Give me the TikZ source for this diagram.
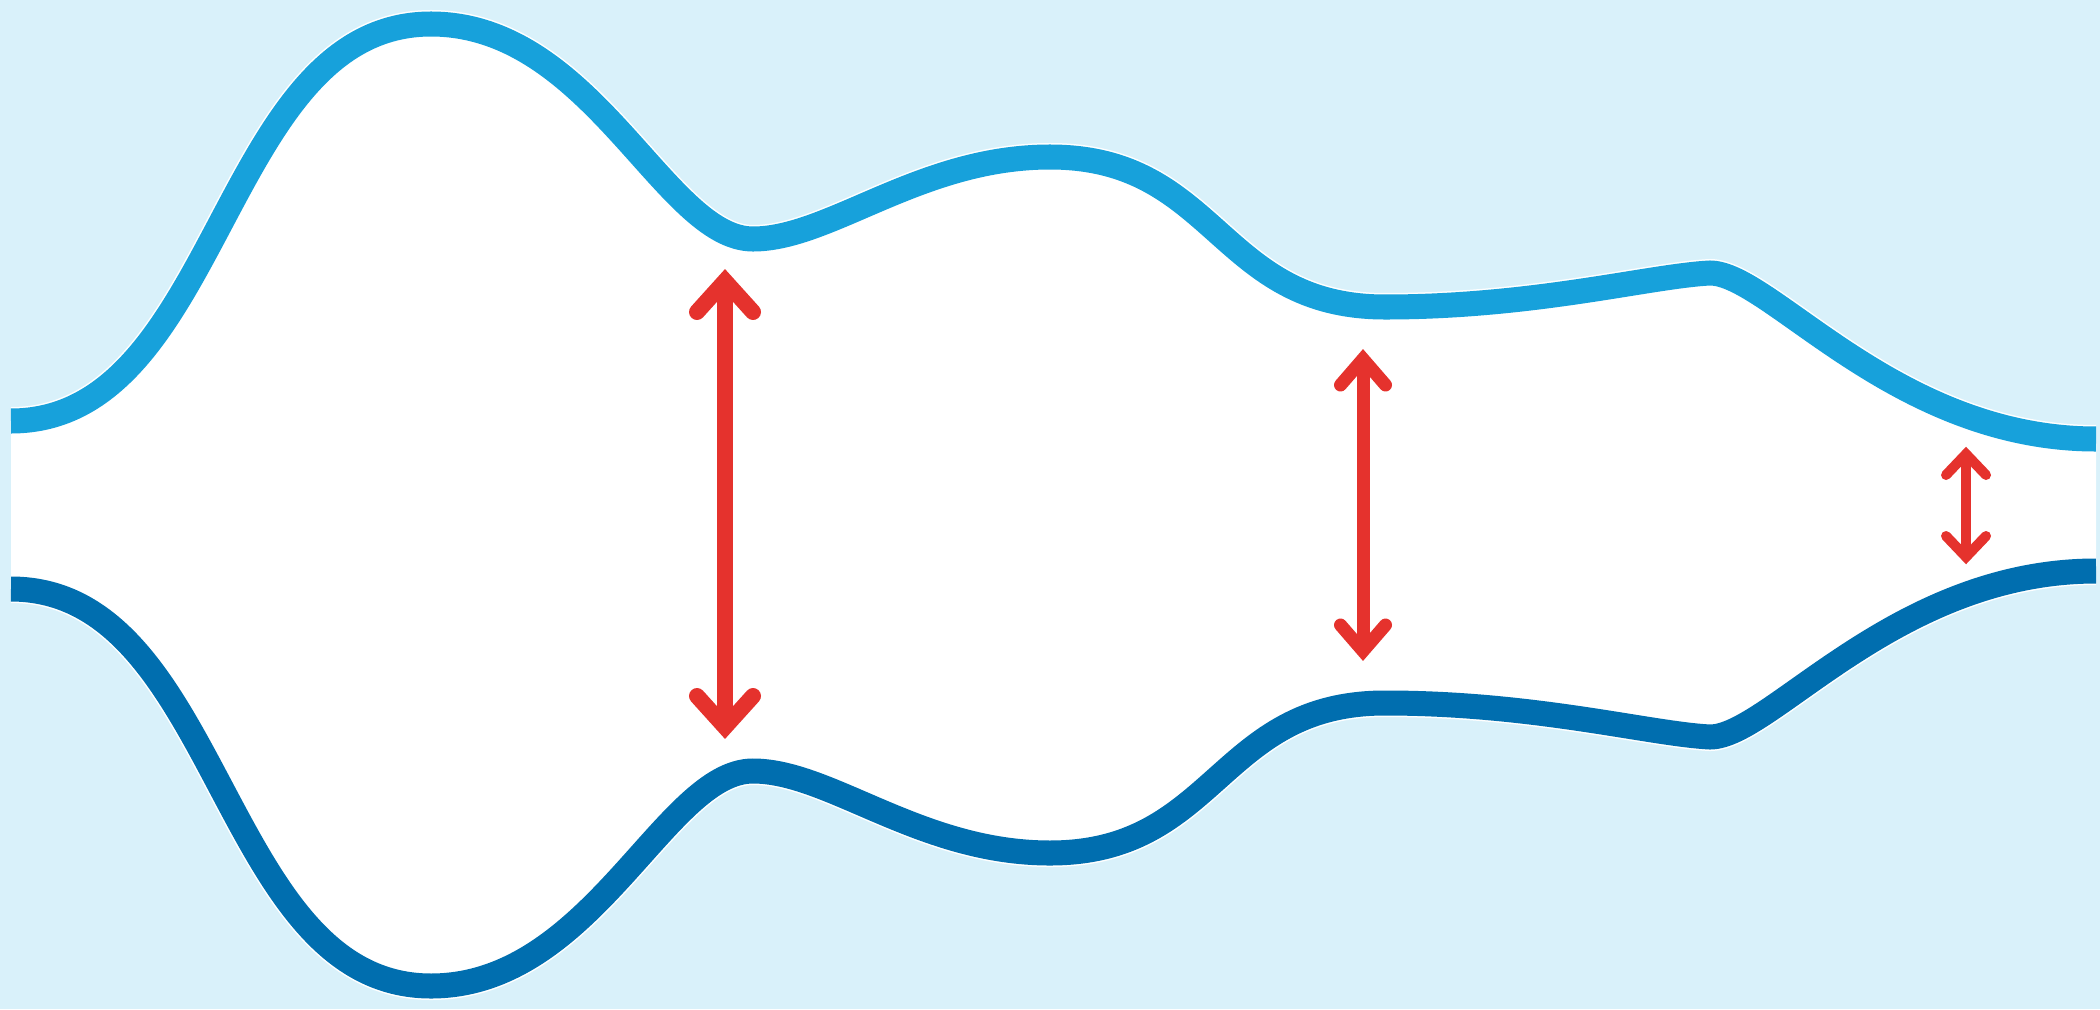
\documentclass[tikz,border=0pt]{standalone}
\usepackage{tikz}
\definecolor{sky}{HTML}{D9F1FA}
\definecolor{wallup}{HTML}{17A1DB}
\definecolor{walldown}{HTML}{006EAF}
\definecolor{gauge}{HTML}{E5322D}
% channel walls, in pixel units (y runs down)
\newcommand{\upperedge}{(11,421) .. controls (221,421) and (221,24) .. (431,24)
  .. controls (592,24) and (665,239) .. (753,239)
  .. controls (830,239) and (920,157) .. (1050,157)
  .. controls (1217,157) and (1218,307) .. (1385,307)
  .. controls (1535,307) and (1650,276) .. (1710,273)
  .. controls (1770,273) and (1895,439) .. (2096,439)}
\newcommand{\loweredge}{(2096,571) .. controls (1895,571) and (1770,737) .. (1710,737)
  .. controls (1650,734) and (1535,703) .. (1385,703)
  .. controls (1218,703) and (1217,853) .. (1050,853)
  .. controls (920,853) and (830,771) .. (753,771)
  .. controls (665,771) and (592,986) .. (431,986)
  .. controls (221,986) and (221,589) .. (11,589)}

\begin{document}
\begin{tikzpicture}[
  x=0.01cm, y=-0.01cm,
  wall/.style={line width=0.25cm},
  halo/.style={draw=white, line width=0.28cm},
  shaft/.style={draw=gauge, line width=#1},
  barb/.style={draw=gauge, line width=#1, line cap=round, line join=miter}
]
  \useasboundingbox (0,0) rectangle (2100,1009);
  \fill[sky] (0,0) rectangle (2100,1009);

  % channel
  \fill[white] \upperedge -- \loweredge -- cycle;
  \draw[halo] \upperedge;
  \draw[halo] \loweredge;
  \draw[wall, draw=wallup] \upperedge;
  \draw[wall, draw=walldown] \loweredge;

  % width gauges
  \foreach \gx/\gtop/\gbot/\gw/\dx/\dy in {725/281/727/0.16/28/31,
      1363/359/651/0.13/22.5/26, 1966/454/557/0.10/20/21} {
    \coordinate (top\gx) at (\gx,\gtop);
    \coordinate (bot\gx) at (\gx,\gbot);
    \draw[shaft=\gw cm] (top\gx) -- (bot\gx);
    \draw[barb=\gw cm] (top\gx) ++(-\dx,\dy) -- (top\gx) -- ++(\dx,\dy);
    \draw[barb=\gw cm] (bot\gx) ++(-\dx,-\dy) -- (bot\gx) -- ++(\dx,-\dy);
  }
\end{tikzpicture}
\end{document}
